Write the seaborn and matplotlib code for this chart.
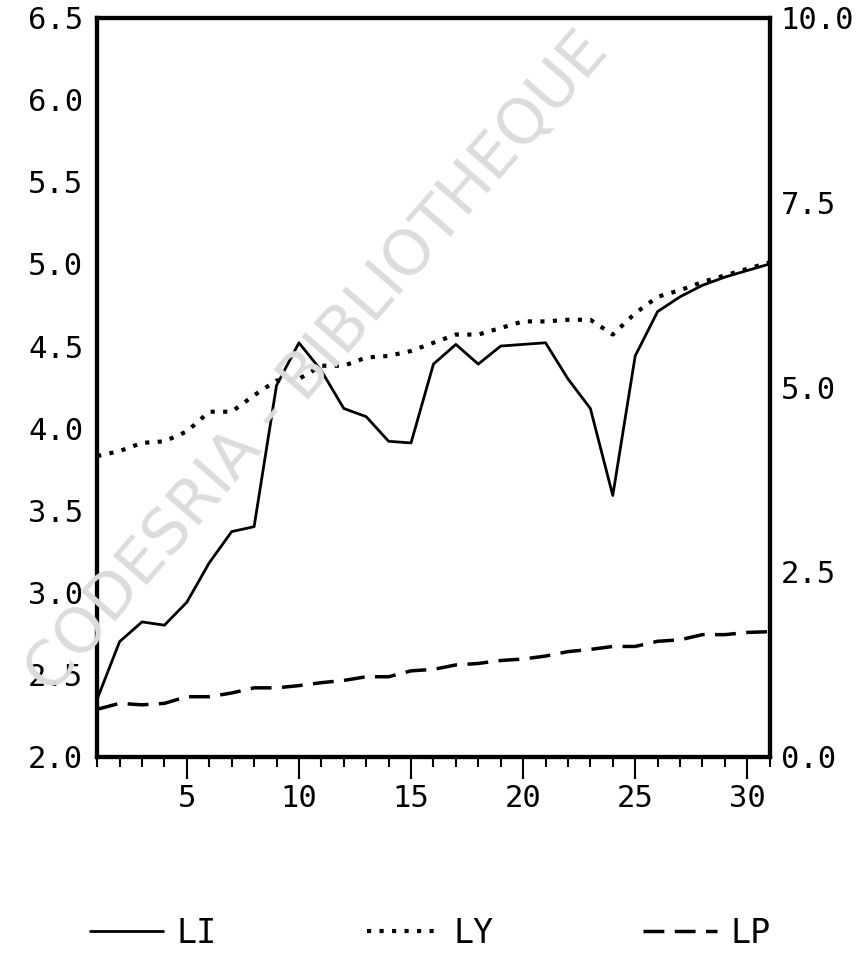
import matplotlib
matplotlib.use("Agg")
from matplotlib import pyplot as plt
from matplotlib.ticker import MultipleLocator, FormatStrFormatter
import pandas as pd
import seaborn as sns

# data (t = 1..31)
t = list(range(1, 32))
li = [2.35, 2.70, 2.82, 2.80, 2.94, 3.18, 3.37, 3.40, 4.26, 4.52,
      4.35, 4.12, 4.07, 3.92, 3.91, 4.39, 4.51, 4.39, 4.50, 4.51,
      4.52, 4.30, 4.12, 3.59, 4.44, 4.71, 4.80, 4.87, 4.92, 4.96, 5.00]
ly = [3.83, 3.86, 3.91, 3.92, 3.98, 4.10, 4.10, 4.20, 4.29, 4.30,
      4.38, 4.38, 4.43, 4.44, 4.47, 4.52, 4.57, 4.57, 4.61, 4.65,
      4.65, 4.66, 4.66, 4.57, 4.70, 4.80, 4.84, 4.89, 4.93, 4.97, 5.01]
lp = [0.64, 0.72, 0.70, 0.72, 0.81, 0.81, 0.86, 0.93, 0.93, 0.96,
      1.00, 1.03, 1.08, 1.08, 1.16, 1.18, 1.24, 1.26, 1.30, 1.32,
      1.36, 1.42, 1.45, 1.49, 1.49, 1.56, 1.58, 1.65, 1.65, 1.68, 1.69]
series_names = ['LI', 'LY', 'LP']

df = pd.DataFrame({'t': t, 'LI': li, 'LY': ly, 'LP': lp})

sns.set_style("ticks")
plt.rcParams['font.family'] = ['DejaVu Sans Mono', 'DejaVu Sans']
plt.rcParams['text.color'] = 'black'
plt.rcParams['xtick.color'] = 'black'
plt.rcParams['ytick.color'] = 'black'

fig = plt.figure(figsize=(8.6, 9.8), dpi=100)

# watermark
fig.text(0.37, 0.63, 'CODESRIA - BIBLIOTHEQUE', rotation=49,
         rotation_mode='anchor', ha='center', va='center',
         fontsize=45, color='#dcdcdc', family='DejaVu Sans', zorder=0)

ax = fig.add_axes([0.113, 0.228, 0.782, 0.754])
ax.patch.set_visible(False)
ax2 = ax.twinx()

sns.lineplot(data=df, x='t', y='LI', ax=ax, color='black', lw=2,
             label='LI', legend=False)
sns.lineplot(data=df, x='t', y='LY', ax=ax, color='black', lw=3,
             ls=(0, (1, 2)), label='LY', legend=False)
sns.lineplot(data=df, x='t', y='LP', ax=ax2, color='black', lw=2.5,
             ls=(0, (6, 3)), label='LP', legend=False)

ax.set_xlim(1, 31)
ax.set_ylim(2.0, 6.5)
ax2.set_ylim(0, 10)

ax.xaxis.set_major_locator(MultipleLocator(5))
ax.xaxis.set_minor_locator(MultipleLocator(1))
ax.yaxis.set_major_locator(MultipleLocator(0.5))
ax.yaxis.set_major_formatter(FormatStrFormatter('%.1f'))
ax2.yaxis.set_major_locator(MultipleLocator(2.5))
ax2.yaxis.set_major_formatter(FormatStrFormatter('%.1f'))

ax.tick_params(axis='x', which='major', length=16, width=1.5, labelsize=22, pad=4)
ax.tick_params(axis='x', which='minor', length=7, width=1.5)
ax.tick_params(axis='y', length=0, labelsize=22, pad=10)
ax2.tick_params(axis='y', length=0, labelsize=22, pad=8)

ax.set_xlabel('')
ax.set_ylabel('')
ax2.set_ylabel('')

for a in (ax, ax2):
    for s in a.spines.values():
        s.set_linewidth(3)
        s.set_color('black')
        s.set_visible(True)

handles = ax.get_lines() + ax2.get_lines()
fig.legend(handles, series_names, loc='lower center', bbox_to_anchor=(0.5, 0.0),
           ncol=3, frameon=False, fontsize=24, columnspacing=4.5, handlelength=2.2,
           handletextpad=0.4)

fig.savefig('out.png', dpi=100)
